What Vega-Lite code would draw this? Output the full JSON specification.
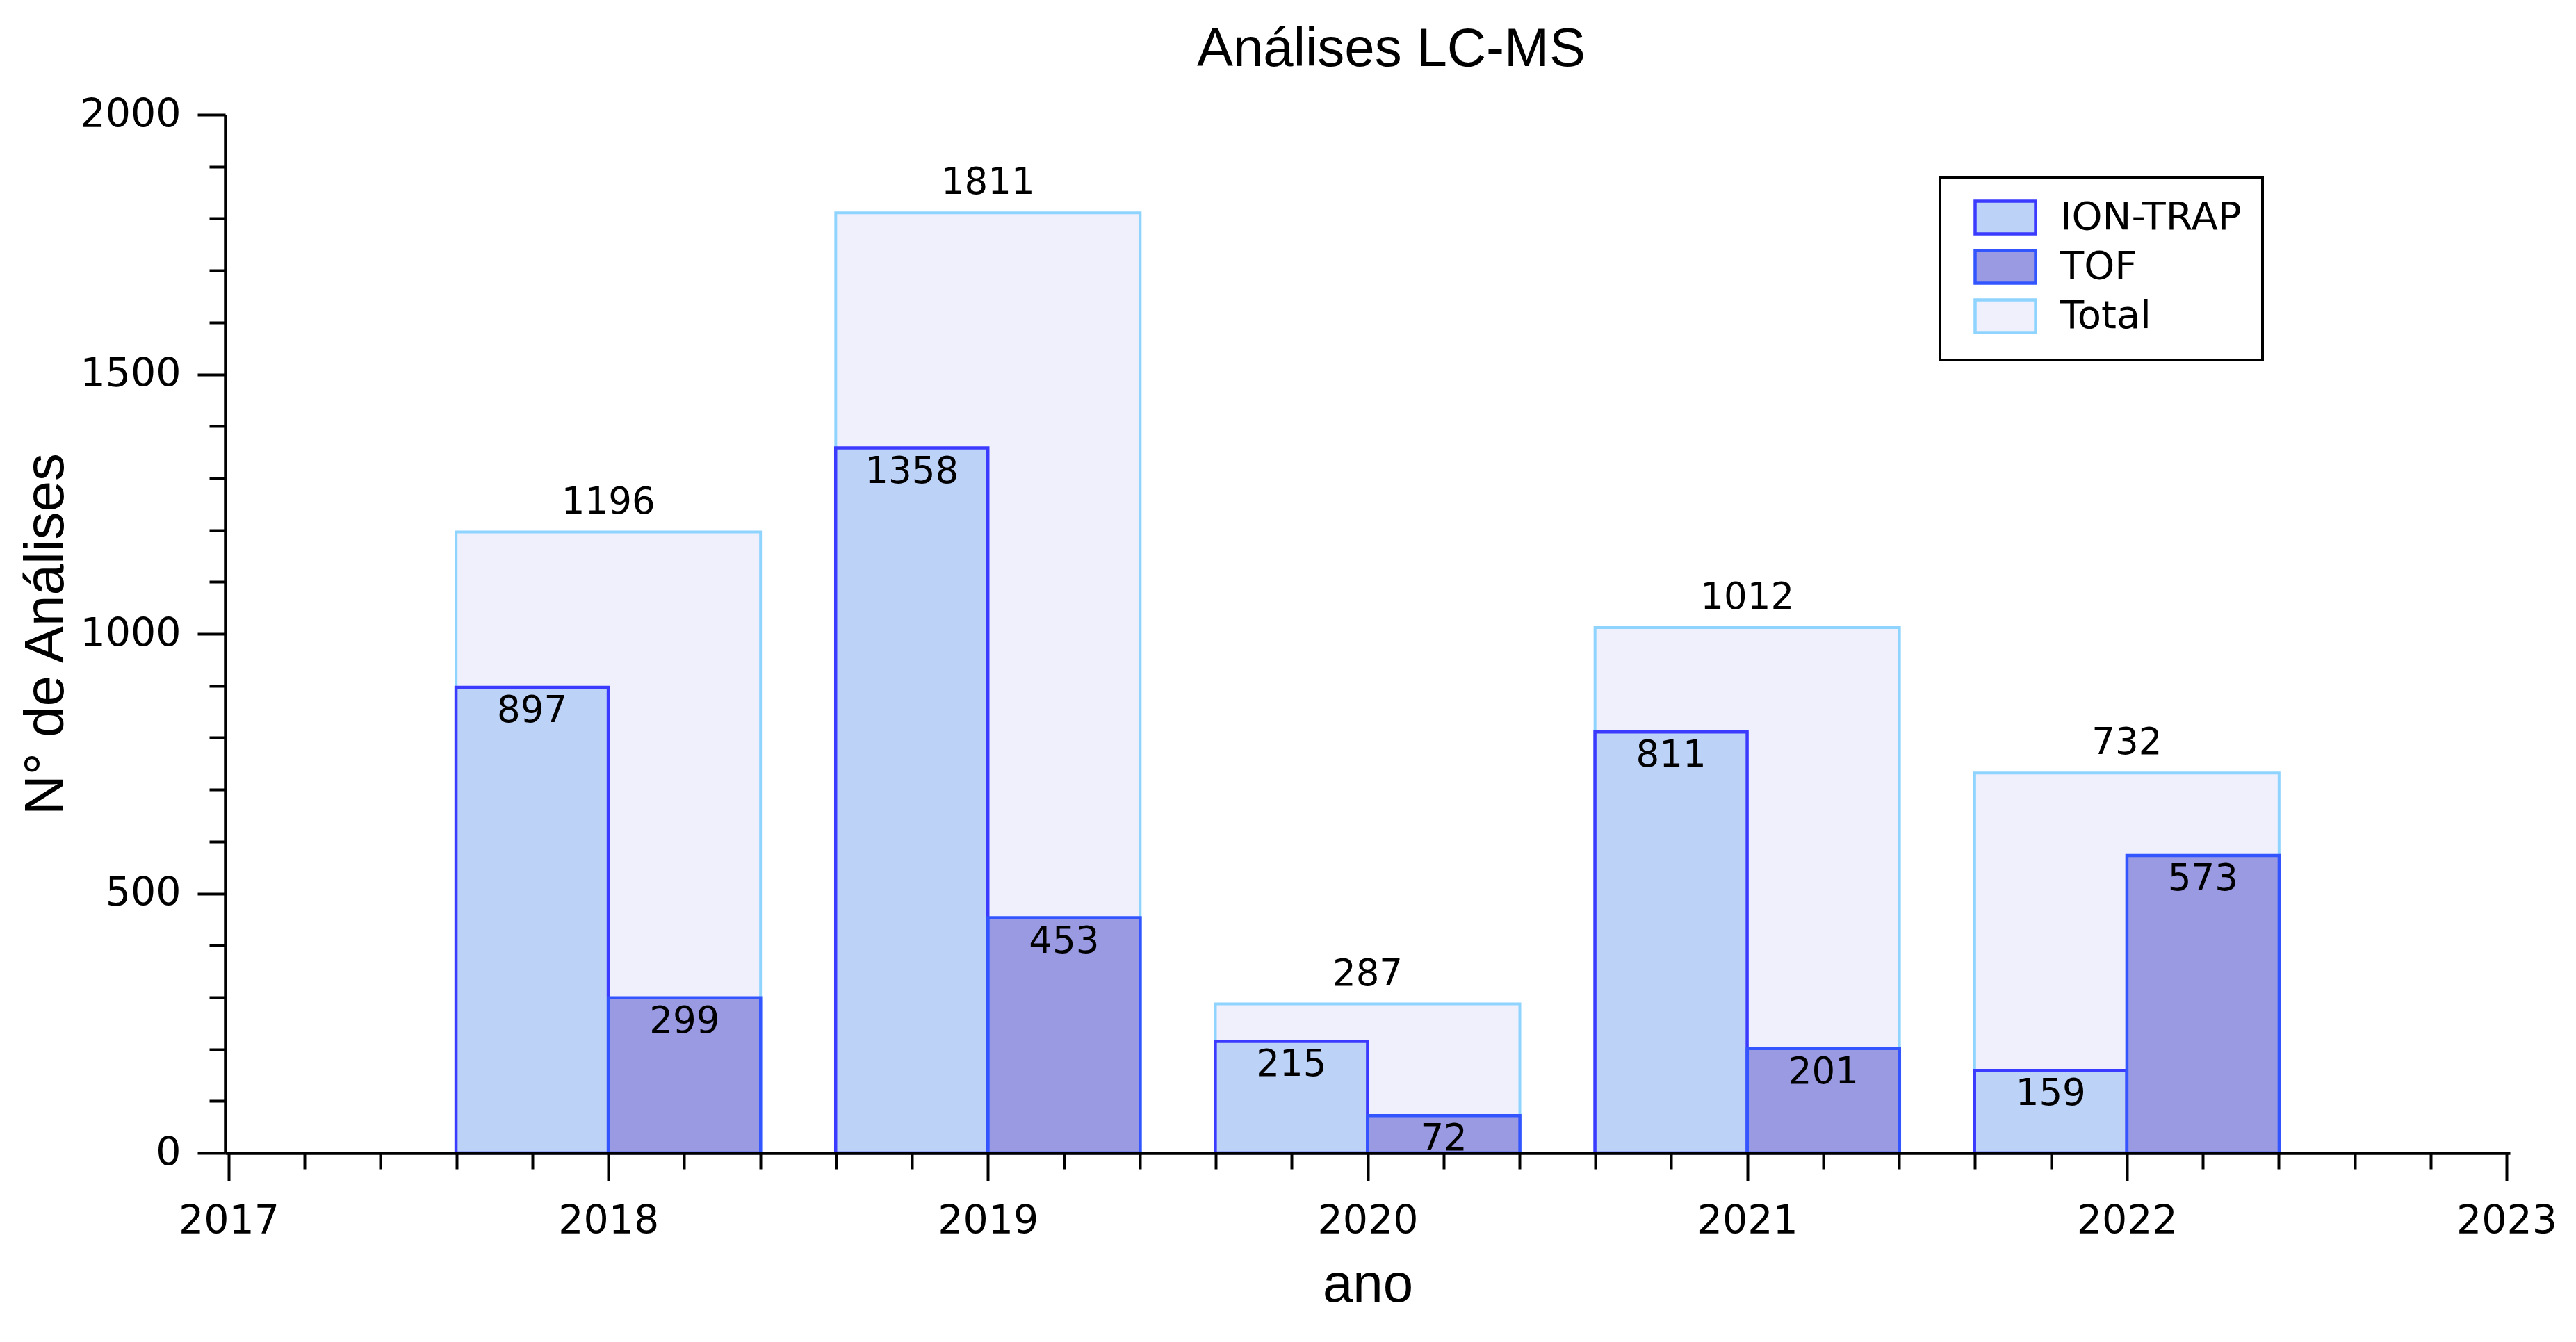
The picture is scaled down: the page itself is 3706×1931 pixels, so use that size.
{
  "$schema": "https://vega.github.io/schema/vega-lite/v6.json",
  "width": 3287,
  "height": 1494,
  "autosize": {"type": "none"},
  "padding": {"left": 324, "top": 165, "right": 95, "bottom": 272},
  "background": "white",
  "title": {
    "text": "Análises LC-MS",
    "font": "Liberation Sans",
    "fontSize": 78,
    "fontWeight": "normal",
    "color": "black",
    "anchor": "middle",
    "baseline": "alphabetic",
    "dx": 34,
    "offset": -37
  },
  "data": {
    "values": [
      {"ano": 2018, "serie": "ION-TRAP", "n": 897},
      {"ano": 2018, "serie": "TOF", "n": 299},
      {"ano": 2018, "serie": "Total", "n": 1196},
      {"ano": 2019, "serie": "ION-TRAP", "n": 1358},
      {"ano": 2019, "serie": "TOF", "n": 453},
      {"ano": 2019, "serie": "Total", "n": 1811},
      {"ano": 2020, "serie": "ION-TRAP", "n": 215},
      {"ano": 2020, "serie": "TOF", "n": 72},
      {"ano": 2020, "serie": "Total", "n": 287},
      {"ano": 2021, "serie": "ION-TRAP", "n": 811},
      {"ano": 2021, "serie": "TOF", "n": 201},
      {"ano": 2021, "serie": "Total", "n": 1012},
      {"ano": 2022, "serie": "ION-TRAP", "n": 159},
      {"ano": 2022, "serie": "TOF", "n": 573},
      {"ano": 2022, "serie": "Total", "n": 732}
    ]
  },
  "encoding": {
    "x": {
      "field": "ano",
      "type": "quantitative",
      "scale": {"domain": [2017, 2023], "nice": false, "zero": false},
      "axis": {
        "title": "ano",
        "titleFont": "Liberation Sans",
        "titleFontSize": 78,
        "titleFontWeight": "normal",
        "titleColor": "black",
        "titleY": 213,
        "titleBaseline": "alphabetic",
        "values": [2017, 2017.2, 2017.4, 2017.6, 2017.8, 2018, 2018.2, 2018.4, 2018.6, 2018.8, 2019, 2019.2, 2019.4, 2019.6, 2019.8, 2020, 2020.2, 2020.4, 2020.6, 2020.8, 2021, 2021.2, 2021.4, 2021.6, 2021.8, 2022, 2022.2, 2022.4, 2022.6, 2022.8, 2023],
        "tickCount": 100,
        "tickMinStep": 0.1,
        "labelExpr": "abs(datum.value - round(datum.value)) < 0.01 ? format(datum.value, 'd') : ''",
        "tickSize": {"condition": {"test": "abs(datum.value - round(datum.value)) < 0.01", "value": 40}, "value": 23},
        "tickWidth": 4,
        "tickColor": "black",
        "domainColor": "black",
        "domainWidth": 4.5,
        "grid": false,
        "labelFont": "DejaVu Sans",
        "labelFontSize": 57,
        "labelColor": "black",
        "labelPadding": 30,
        "labelFlush": false,
        "labelOverlap": false,
        "labelBound": false,
        "zindex": 1
      }
    },
    "y": {
      "field": "n",
      "type": "quantitative",
      "scale": {"domain": [0, 2000], "nice": false},
      "axis": {
        "title": "N° de Análises",
        "titleFont": "Liberation Sans",
        "titleFontSize": 80,
        "titleFontWeight": "normal",
        "titleColor": "black",
        "titleAngle": 270,
        "titleAlign": "center",
        "titleBaseline": "middle",
        "titleX": -258,
        "titleY": 747,
        "values": [0, 100, 200, 300, 400, 500, 600, 700, 800, 900, 1000, 1100, 1200, 1300, 1400, 1500, 1600, 1700, 1800, 1900, 2000],
        "tickCount": 100,
        "format": "d",
        "labelExpr": "datum.value % 500 === 0 ? datum.label : ''",
        "tickSize": {"condition": {"test": "datum.value % 500 === 0", "value": 40}, "value": 23},
        "tickWidth": 4,
        "tickColor": "black",
        "domainColor": "black",
        "domainWidth": 4.5,
        "grid": false,
        "labelFont": "DejaVu Sans",
        "labelFontSize": 57,
        "labelColor": "black",
        "labelPadding": 24,
        "labelOverlap": false,
        "labelBound": false,
        "zindex": 1
      }
    },
    "fill": {
      "field": "serie",
      "type": "nominal",
      "scale": {"domain": ["ION-TRAP", "TOF", "Total"], "range": ["#bdd2f7", "#9a9ae3", "#f0f0fc"]},
      "legend": {
        "orient": "none",
        "legendX": 2467,
        "legendY": 90,
        "title": null,
        "strokeColor": "black",
        "fillColor": "white",
        "padding": 30,
        "symbolType": "M-2,-1.08H2V1.08H-2Z",
        "symbolSize": 1892,
        "symbolStrokeWidth": 4.5,
        "symbolOpacity": 1,
        "symbolOffset": 36,
        "labelFont": "DejaVu Sans",
        "labelFontSize": 56,
        "labelColor": "black",
        "labelOffset": 51,
        "labelLimit": 1000,
        "rowPadding": 5
      }
    },
    "stroke": {
      "field": "serie",
      "type": "nominal",
      "scale": {"domain": ["ION-TRAP", "TOF", "Total"], "range": ["#3b3bff", "#3355ff", "#8fd4ff"]}
    }
  },
  "layer": [
    {
      "transform": [{"filter": "datum.serie === 'Total'"}],
      "mark": {"type": "bar", "width": 438, "strokeWidth": 4, "opacity": 1}
    },
    {
      "transform": [{"filter": "datum.serie === 'ION-TRAP'"}],
      "mark": {"type": "bar", "width": 219, "xOffset": -109.6, "strokeWidth": 4.5, "opacity": 1}
    },
    {
      "transform": [{"filter": "datum.serie === 'TOF'"}],
      "mark": {"type": "bar", "width": 219, "xOffset": 109.6, "strokeWidth": 4.5, "opacity": 1}
    },
    {
      "transform": [{"filter": "datum.serie === 'Total'"}],
      "mark": {"type": "text", "font": "DejaVu Sans", "fontSize": 53, "baseline": "alphabetic", "dy": -27, "color": "black"},
      "encoding": {"text": {"field": "n", "type": "quantitative", "format": "d"}, "fill": {"value": "black"}, "stroke": {"value": null}}
    },
    {
      "transform": [{"filter": "datum.serie === 'ION-TRAP'"}],
      "mark": {"type": "text", "font": "DejaVu Sans", "fontSize": 53, "baseline": "alphabetic", "dy": 50, "xOffset": -109.6, "color": "black"},
      "encoding": {"text": {"field": "n", "type": "quantitative", "format": "d"}, "fill": {"value": "black"}, "stroke": {"value": null}}
    },
    {
      "transform": [{"filter": "datum.serie === 'TOF'"}],
      "mark": {"type": "text", "font": "DejaVu Sans", "fontSize": 53, "baseline": "alphabetic", "dy": 50, "xOffset": 109.6, "color": "black"},
      "encoding": {"text": {"field": "n", "type": "quantitative", "format": "d"}, "fill": {"value": "black"}, "stroke": {"value": null}}
    }
  ],
  "config": {
    "view": {"stroke": null},
    "legend": {"strokeWidth": 4}
  }
}
